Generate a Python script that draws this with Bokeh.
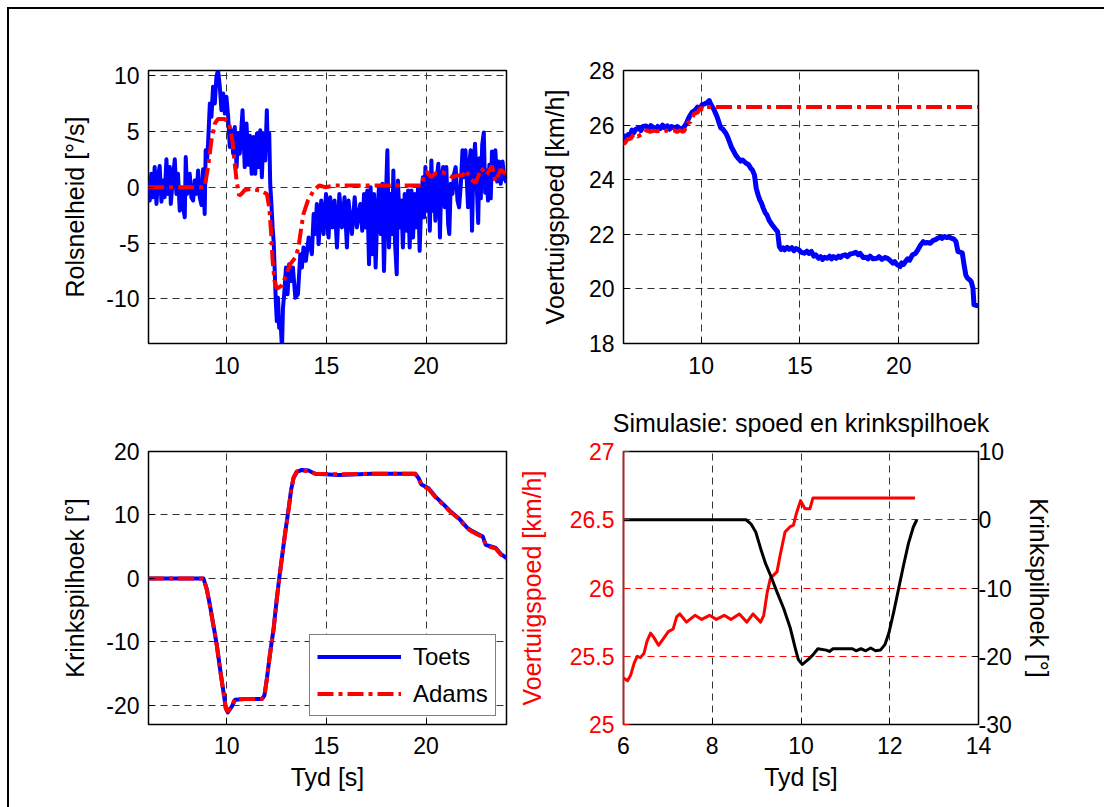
from bokeh.plotting import figure
from bokeh.models import Range1d, LinearAxis, FixedTicker, Spacer
from bokeh.layouts import gridplot, column, row
from bokeh.embed import file_html
from bokeh.resources import INLINE

# ---------------- data ----------------
# Panel 1: roll rate [deg/s]
t_roll_toets = [6.05, 6.13, 6.21, 6.30, 6.38, 6.47, 6.55, 6.63, 6.72, 6.80, 6.88, 6.97, 7.05, 7.14, 7.19, 7.27, 7.39, 7.47,
                7.55, 7.64, 7.72, 7.81, 7.89, 7.94, 8.01, 8.07, 8.14, 8.22, 8.31, 8.39, 8.48, 8.56, 8.64, 8.73, 8.81, 8.89,
                8.94, 9.01, 9.06, 9.15, 9.23, 9.31, 9.40, 9.48, 9.56, 9.65, 9.73, 9.82, 9.90, 9.98, 10.07, 10.15, 10.23,
                10.32, 10.40, 10.49, 10.57, 10.65, 10.79, 10.90, 10.99, 11.08, 11.16, 11.25, 11.34, 11.43, 11.51, 11.59,
                11.68, 11.76, 11.84, 11.93, 12.01, 12.06, 12.13, 12.18, 12.23, 12.30, 12.35, 12.40, 12.46, 12.51, 12.57,
                12.63, 12.70, 12.77, 12.82, 12.88, 12.97, 13.05, 13.13, 13.23, 13.32, 13.44, 13.57, 13.69, 13.77, 13.85,
                13.97, 14.11, 14.27, 14.36, 14.44, 14.52, 14.61, 14.74, 14.86, 14.98, 15.11, 15.19, 15.31, 15.41, 15.53,
                15.65, 15.78, 15.91, 16.03, 16.11, 16.28, 16.42, 16.53, 16.70, 16.80, 16.89, 16.97, 17.05, 17.14, 17.22,
                17.30, 17.39, 17.47, 17.56, 17.64, 17.73, 17.81, 17.89, 17.98, 18.06, 18.14, 18.23, 18.31, 18.36, 18.44,
                18.53, 18.59, 18.69, 18.76, 18.84, 18.93, 19.03, 19.10, 19.18, 19.27, 19.35, 19.43, 19.52, 19.60, 19.68,
                19.77, 19.84, 19.90, 19.97, 20.04, 20.12, 20.19, 20.27, 20.34, 20.40, 20.47, 20.54, 20.62, 20.70, 20.77,
                20.86, 20.94, 21.02, 21.11, 21.17, 21.24, 21.33, 21.41, 21.49, 21.58, 21.66, 21.75, 21.83, 21.91, 21.98,
                22.04, 22.11, 22.16, 22.24, 22.31, 22.38, 22.46, 22.55, 22.62, 22.68, 22.75, 22.82, 22.90, 22.97, 23.04,
                23.11, 23.18, 23.25, 23.31, 23.40, 23.48, 23.57, 23.66, 23.75, 23.84, 23.93, 24.04]
roll_toets = [0.6, -1.2, 1.2, -0.9, 1.8, -1.5, 0.9, 1.9, -1.3, 0.6, -0.9, 2.5, -0.6, 1.8, -1.5, 0.3, 2.5, -0.6,
              1.2, -2.1, -0.3, -1.8, -2.7, 2.7, -0.6, 0.6, 1.2, -0.9, -1.2, 0.6, -0.6, 1.5, -0.9, -1.6, 1.6, -2.4,
              3.3, 2.4, 3.9, 7.5, 6.3, 9.0, 7.5, 9.9, 10.5, 9.0, 6.9, 8.4, 6.6, 8.1, 6.3, 3.6, 5.1,
              3.0, 5.4, 1.8, 4.8, 3.0, 6.9, 1.8, 5.7, 2.0, 4.6, 1.2, 4.5, 1.2, 4.8, 1.8,
              5.1, 0.9, 4.8, 2.4, 6.9, 3.3, 4.8, 0.3, -1.2, -3.6, -4.8, -7.2, -10.2, -12.0, -9.9,
              -12.6, -12.0, -14.5, -10.8, -9.6, -7.2, -9.6, -6.9, -8.4, -7.2, -9.9, -9.6, -6.0, -7.2, -5.4,
              -6.6, -4.5, -6.0, -2.4, -4.2, -1.5, -5.1, -1.2, -4.2, -0.6, -4.5, -0.9, -3.6, -1.2, -5.4,
              -0.6, -3.6, -0.9, -5.4, -1.2, -4.2, -0.9, -3.6, -1.5, -3.9, -0.6, -3.6, -0.3, -6.9, 0.0,
              -6.0, -0.6, -7.2, -2.1, 0.0, -4.2, 0.3, -7.5, -1.2, 3.3, -5.4, -0.6, -4.2, 1.5, -4.8,
              -7.8, 0.6, -3.6, -1.2, -5.4, -0.6, -3.9, -0.3, -5.4, -0.3, -4.5, -0.6, -3.6, 0.0, -5.7,
              -0.9, 0.9, -2.7, 1.8, -2.1, 1.2, -3.9, 2.4, -2.1, 0.9, -3.0, 0.9, 2.1, -4.5, 0.9,
              1.8, -1.8, 1.8, -3.3, -4.2, 0.3, -0.6, 1.2, 1.8, -1.2, -1.8, 0.3, 3.3, 0.9, 3.3,
              0.9, -1.8, 1.8, 3.3, -3.9, 1.8, 3.9, 0.0, -3.2, 2.6, -1.0, 3.8, 4.9, -0.5, 1.5,
              -1.2, 2.0, -1.0, 3.2, 0.8, 3.3, 0.5, 2.3, 0.3, 2.3, 0.8, 0.4]
t_roll_adams = [6.05, 8.89, 9.06, 9.23, 9.40, 9.55, 9.90, 10.12, 10.28, 10.40, 10.49, 10.62, 10.74, 10.90, 11.24,
                11.76, 12.01, 12.13, 12.23, 12.30, 12.40, 12.51, 12.77, 12.97, 13.18, 13.44, 13.60, 13.74, 13.85,
                14.07, 14.36, 14.64, 14.94, 15.44, 19.75, 19.82, 19.90, 20.07, 20.24, 20.49, 20.82, 21.07, 21.33,
                21.58, 21.83, 22.04, 22.16, 22.33, 22.50, 22.77, 23.04, 23.31, 23.48, 23.75, 24.04]
roll_adams = [0.0, 0.0, 1.8, 4.2, 5.7, 6.1, 6.1, 5.7, 4.2, 2.1, 0.6, -0.75, -0.6, -0.25, -0.15,
              -0.35, -0.6, -1.8, -4.2, -6.6, -8.4, -9.1, -8.8, -7.9, -6.9, -6.3, -5.4, -3.6, -2.4,
              -1.2, -0.3, 0.15, 0.0, 0.15, 0.15, 0.45, 1.2, 1.35, 0.9, 1.25, 1.35, 1.15, 0.9,
              1.05, 1.05, 1.5, 0.9, 0.6, 0.4, 1.7, 1.1, 1.9, 0.5, 1.6, 1.1]

# Panel 2: vehicle speed [km/h]
t_speed_toets = [6.06, 6.15, 6.25, 6.31, 6.40, 6.50, 6.58, 6.70, 6.85, 6.95, 7.05, 7.21, 7.35, 7.45, 7.57, 7.70, 7.80,
                 7.93, 8.05, 8.15, 8.29, 8.40, 8.50, 8.65, 8.80, 8.95, 9.10, 9.20, 9.28, 9.40, 9.55, 9.70, 9.82, 9.95,
                 10.05, 10.18, 10.30, 10.41, 10.50, 10.63, 10.72, 10.81, 10.90, 10.99, 11.10, 11.26, 11.35, 11.44,
                 11.53, 11.62, 11.75, 11.89, 12.00, 12.10, 12.25, 12.40, 12.52, 12.60, 12.70, 12.79, 12.88, 12.97,
                 13.05, 13.15, 13.25, 13.33, 13.45, 13.60, 13.75, 13.87, 13.96, 14.05, 14.15, 14.23, 14.35, 14.45,
                 14.59, 14.70, 14.80, 14.95, 15.05, 15.22, 15.35, 15.45, 15.58, 15.70, 15.80, 15.94, 16.05, 16.15,
                 16.25, 16.39, 16.50, 16.60, 16.70, 16.84, 16.95, 17.05, 17.15, 17.29, 17.40, 17.55, 17.70, 17.83,
                 17.95, 18.05, 18.20, 18.36, 18.45, 18.55, 18.70, 18.90, 19.00, 19.15, 19.30, 19.44, 19.55, 19.71,
                 19.80, 19.90, 20.07, 20.15, 20.25, 20.34, 20.45, 20.55, 20.70, 20.85, 20.97, 21.10, 21.24, 21.35,
                 21.45, 21.60, 21.75, 21.85, 21.96, 22.10, 22.20, 22.32, 22.45, 22.55, 22.68, 22.80, 22.90, 23.00,
                 23.10, 23.22, 23.31, 23.40, 23.49, 23.60, 23.67, 23.76, 23.81, 23.90, 24.04]
speed_toets = [25.45, 25.60, 25.50, 25.65, 25.60, 25.82, 25.72, 25.85, 25.90, 25.80, 25.95, 25.97, 25.88, 25.98, 25.92,
               25.85, 25.95, 25.87, 26.00, 25.90, 25.97, 25.85, 25.95, 25.89, 25.95, 25.85, 25.90, 26.00, 26.11, 26.30,
               26.48, 26.55, 26.66, 26.60, 26.75, 26.78, 26.82, 26.90, 26.75, 26.60, 26.45, 26.30, 26.10, 25.90, 25.85,
               25.69, 25.55, 25.38, 25.20, 25.08, 24.90, 24.77, 24.68, 24.72, 24.62, 24.55, 24.41, 24.35, 24.17, 23.68,
               23.45, 23.26, 23.15, 22.95, 22.78, 22.71, 22.50, 22.34, 22.20, 22.10, 21.55, 21.45, 21.50, 21.43, 21.52,
               21.45, 21.51, 21.40, 21.48, 21.43, 21.35, 21.31, 21.38, 21.30, 21.37, 21.20, 21.25, 21.12, 21.18, 21.08,
               21.16, 21.12, 21.20, 21.10, 21.18, 21.12, 21.20, 21.15, 21.22, 21.25, 21.18, 21.28, 21.30, 21.34, 21.25,
               21.30, 21.15, 21.16, 21.10, 21.20, 21.10, 21.12, 21.18, 21.08, 21.15, 21.12, 21.05, 20.94, 21.00, 20.90,
               20.82, 20.95, 20.90, 21.00, 21.10, 21.05, 21.25, 21.30, 21.43, 21.60, 21.73, 21.68, 21.70, 21.67, 21.78,
               21.80, 21.85, 21.90, 21.85, 21.92, 21.88, 21.90, 21.85, 21.82, 21.73, 21.37, 21.35, 21.31, 20.88, 20.50,
               20.39, 20.33, 20.27, 20.03, 19.42, 19.40, 19.38]

# Panel 4 (simulation): speed [km/h] and steering angle [deg]
sim_t_speed = [6.00, 6.09, 6.16, 6.24, 6.31, 6.38, 6.46, 6.53, 6.61, 6.68, 6.79, 6.90, 7.01, 7.12, 7.20, 7.27, 7.42,
               7.61, 7.76, 7.94, 8.09, 8.27, 8.42, 8.61, 8.78, 8.92, 9.09, 9.16, 9.24, 9.31, 9.46, 9.53, 9.64, 9.76,
               9.83, 9.89, 9.99, 10.09, 10.20, 10.27, 12.57]
sim_speed = [25.34, 25.32, 25.36, 25.45, 25.50, 25.49, 25.52, 25.61, 25.67, 25.64, 25.58, 25.63, 25.68, 25.70, 25.79,
             25.81, 25.75, 25.80, 25.77, 25.80, 25.77, 25.80, 25.77, 25.81, 25.75, 25.81, 25.75, 25.80, 25.97, 26.07,
             26.12, 26.24, 26.41, 26.45, 26.46, 26.54, 26.64, 26.58, 26.58, 26.66, 26.66]
sim_t_steer = [6.00, 8.76, 8.87, 8.98, 9.09, 9.20, 9.31, 9.46, 9.61, 9.76, 9.87, 9.94, 10.03, 10.16, 10.27, 10.38,
               10.57, 10.64, 10.72, 11.16, 11.24, 11.35, 11.46, 11.57, 11.68, 11.79, 11.89, 11.98, 12.09, 12.20,
               12.31, 12.42, 12.53, 12.61]
sim_steer = [0.0, 0.0, -0.6, -1.8, -4.2, -6.4, -8.1, -10.6, -13.0, -15.9, -18.8, -20.5, -21.2, -20.5, -19.8, -18.9,
             -19.1, -19.3, -18.9, -18.9, -19.2, -18.9, -19.2, -18.8, -19.2, -19.1, -18.3, -16.6, -13.5, -10.1,
             -6.7, -3.5, -1.1, 0.0]

# Panel 2 Adams speed = simulation speed held to the end
t_speed_adams = sim_t_speed + [24.04]
speed_adams = sim_speed + [26.66]

# Panel 3: steering angle [deg]
t_steer = [6.05, 8.83, 9.00, 9.16, 9.33, 9.50, 9.66, 9.83, 9.95, 10.05, 10.25, 10.42, 10.92, 11.76, 11.89, 12.01, 12.18,
           12.35, 12.51, 12.63, 12.80, 12.93, 13.10, 13.23, 13.35, 13.52, 13.77, 14.10, 14.44, 15.61, 17.29, 18.96,
           19.46, 19.63, 19.77, 20.13, 20.47, 20.80, 21.22, 21.64, 22.06, 22.30, 22.60, 22.85, 23.00, 23.30, 23.50,
           23.75, 24.04]
steer_toets = [0, 0, -1.7, -4.3, -7.4, -10.5, -14.2, -17.8, -20.4, -21.1, -20.2, -19.1, -19.0, -19.0, -18.4, -15.8,
               -11.6, -7.9, -3.2, 0, 4.1, 7.2, 10.9, 14.0, 15.8, 16.8, 17.1, 17.0, 16.5, 16.3, 16.5, 16.5, 16.5,
               15.8, 14.8, 14.2, 12.9, 11.9, 10.6, 9.5, 8.0, 7.5, 7.0, 6.6, 5.3, 5.0, 4.8, 3.9, 3.2]
steer_adams = [0, 0, -1.8, -4.4, -7.5, -10.6, -14.3, -17.9, -20.5, -21.0, -20.0, -19.0, -19.0, -19.0, -18.5, -15.9,
               -11.7, -8.0, -3.3, -0.1, 4.0, 7.1, 10.8, 13.9, 15.9, 16.9, 17.0, 16.9, 16.5, 16.4, 16.5, 16.5, 16.5,
               15.7, 14.7, 14.1, 12.8, 11.8, 10.5, 9.4, 7.9, 7.4, 6.9, 6.5, 5.2, 4.9, 4.7, 3.8, 3.1]

# ticks
xticks_main = [10, 15, 20]
yticks_roll = [-10, -5, 0, 5, 10]
yticks_speed = [18, 20, 22, 24, 26, 28]
yticks_steer = [-20, -10, 0, 10, 20]
xticks_sim = [6, 8, 10, 12, 14]
yticks_sim_speed = [25, 25.5, 26, 26.5, 27]
yticks_sim_steer = [-30, -20, -10, 0, 10]

# ---------------- styling ----------------
FONT = "Liberation Sans"
TICK = "23px"
LAB = "25px"
GRIDC = "#333333"
DASH = "7 5"
DASHDOT = "16 5 4 5"
BLUE = "#0000ff"
RED = "#ff0000"


def labels(ticks):
    return {t: ("%g" % t) for t in ticks}


def make_fig(width, height, xr, yr, bl, br, bt, bb):
    p = figure(width=width, height=height, x_range=Range1d(*xr), y_range=Range1d(*yr),
               output_backend="svg", toolbar_location=None,
               min_border_left=bl, min_border_right=br, min_border_top=bt, min_border_bottom=bb)
    p.outline_line_color = "black"
    p.outline_line_width = 1.5
    p.background_fill_color = "white"
    p.border_fill_color = "white"
    return p


def style_axis(ax, ticks, color="black", label_standoff=9, axis_standoff=14):
    ax.ticker = FixedTicker(ticks=ticks)
    ax.major_label_overrides = labels(ticks)
    ax.axis_line_color = None
    ax.major_tick_in = 6
    ax.major_tick_out = 0
    ax.major_tick_line_color = color
    ax.minor_tick_line_color = None
    ax.major_label_text_font = FONT
    ax.major_label_text_font_size = TICK
    ax.major_label_text_color = color
    ax.major_label_standoff = label_standoff
    ax.axis_label_text_font = FONT
    ax.axis_label_text_font_size = LAB
    ax.axis_label_text_font_style = "normal"
    ax.axis_label_text_color = color
    ax.axis_label_standoff = axis_standoff


def style_grid(g, ticks, color=GRIDC):
    g.ticker = FixedTicker(ticks=ticks)
    g.grid_line_color = color
    g.grid_line_dash = DASH
    g.grid_line_width = 1


XR = (6.07, 24.04)
TOP_H = 383
BOT_H = 414
LW = 505   # left column width
RW = 590   # right column width

# Panel 1
p1 = make_fig(LW, TOP_H, XR, (-14.0, 10.45), 139, 8, 61, 49)
p1.line(t_roll_toets, roll_toets, color=BLUE, line_width=4, line_join="round")
p1.line(t_roll_adams, roll_adams, color=RED, line_width=4, line_dash=DASHDOT)
p1.yaxis.axis_label = "Rolsnelheid [°/s]"
style_axis(p1.xaxis[0], xticks_main, label_standoff=13)
style_axis(p1.yaxis[0], yticks_roll)
style_grid(p1.xgrid[0], xticks_main)
style_grid(p1.ygrid[0], yticks_roll)

# Panel 2
p2 = make_fig(RW, TOP_H, XR, (18, 28), 104, 126, 61, 49)
p2.line(t_speed_toets, speed_toets, color=BLUE, line_width=5, line_join="round")
p2.line(t_speed_adams, speed_adams, color=RED, line_width=4, line_dash=DASHDOT)
p2.yaxis.axis_label = "Voertuigspoed [km/h]"
style_axis(p2.xaxis[0], xticks_main, label_standoff=13)
style_axis(p2.yaxis[0], yticks_speed, axis_standoff=17)
style_grid(p2.xgrid[0], xticks_main)
style_grid(p2.ygrid[0], [20, 22, 24, 26])

# Panel 3
p3 = make_fig(LW, BOT_H, XR, (-23, 20), 139, 8, 59, 82)
p3.line(t_steer, steer_toets, color=BLUE, line_width=4, line_join="round", legend_label="Toets")
p3.line(t_steer, steer_adams, color=RED, line_width=4, line_dash=DASHDOT, legend_label="Adams")
p3.yaxis.axis_label = "Krinkspilhoek [°]"
p3.xaxis.axis_label = "Tyd [s]"
style_axis(p3.xaxis[0], xticks_main, label_standoff=12, axis_standoff=6)
style_axis(p3.yaxis[0], yticks_steer)
style_grid(p3.xgrid[0], xticks_main)
style_grid(p3.ygrid[0], [-20, -10, 0, 10])
lg = p3.legend[0]
lg.location = (161, 8)
lg.margin = 0
lg.padding = 7
lg.spacing = 8
lg.glyph_height = 29
lg.label_height = 29
lg.glyph_width = 84
lg.label_standoff = 12
lg.label_text_font = FONT
lg.label_text_font_size = "24px"
lg.label_text_color = "black"
lg.border_line_color = "black"
lg.border_line_width = 1
lg.background_fill_color = "white"
lg.background_fill_alpha = 1

# Panel 4
p4 = make_fig(RW, BOT_H, (6, 14), (25, 27), 104, 126, 59, 82)
p4.title.text = "Simulasie: spoed en krinkspilhoek"
p4.title.text_font = FONT
p4.title.text_font_size = LAB
p4.title.text_font_style = "normal"
p4.title.text_color = "black"
p4.title.align = "center"
p4.title.offset = -4
p4.title.standoff = 29
p4.extra_y_ranges = {"ang": Range1d(-30, 10)}
right_ax = LinearAxis(y_range_name="ang", axis_label="Krinkspilhoek [°]")
p4.add_layout(right_ax, "right")
p4.line(sim_t_speed, sim_speed, color=RED, line_width=3, line_join="round")
p4.line(sim_t_steer, sim_steer, color="black", line_width=3, line_join="round", y_range_name="ang")
p4.xaxis.axis_label = "Tyd [s]"
p4.yaxis[0].axis_label = "Voertuigspoed [km/h]"
style_axis(p4.xaxis[0], xticks_sim, label_standoff=12, axis_standoff=6)
style_axis(p4.yaxis[0], yticks_sim_speed, color=RED, axis_standoff=21)
p4.yaxis[0].axis_line_color = RED
p4.yaxis[0].axis_line_width = 1.5
style_axis(right_ax, yticks_sim_steer, label_standoff=0, axis_standoff=10)
right_ax.axis_label_orientation = "vertical"
style_grid(p4.xgrid[0], [8, 10, 12])
style_grid(p4.ygrid[0], [25.5, 26, 26.5], color=RED)

grid = gridplot([[p1, p2], [p3, p4]], toolbar_location=None)
top_line = Spacer(width=1097, height=2, styles={"background-color": "black"})
left_line = Spacer(width=2, height=798, styles={"background-color": "black"})
root = column(top_line, row(left_line, grid), margin=(7, 0, 0, 7))

open("out.html", "w").write(file_html(root, INLINE))
